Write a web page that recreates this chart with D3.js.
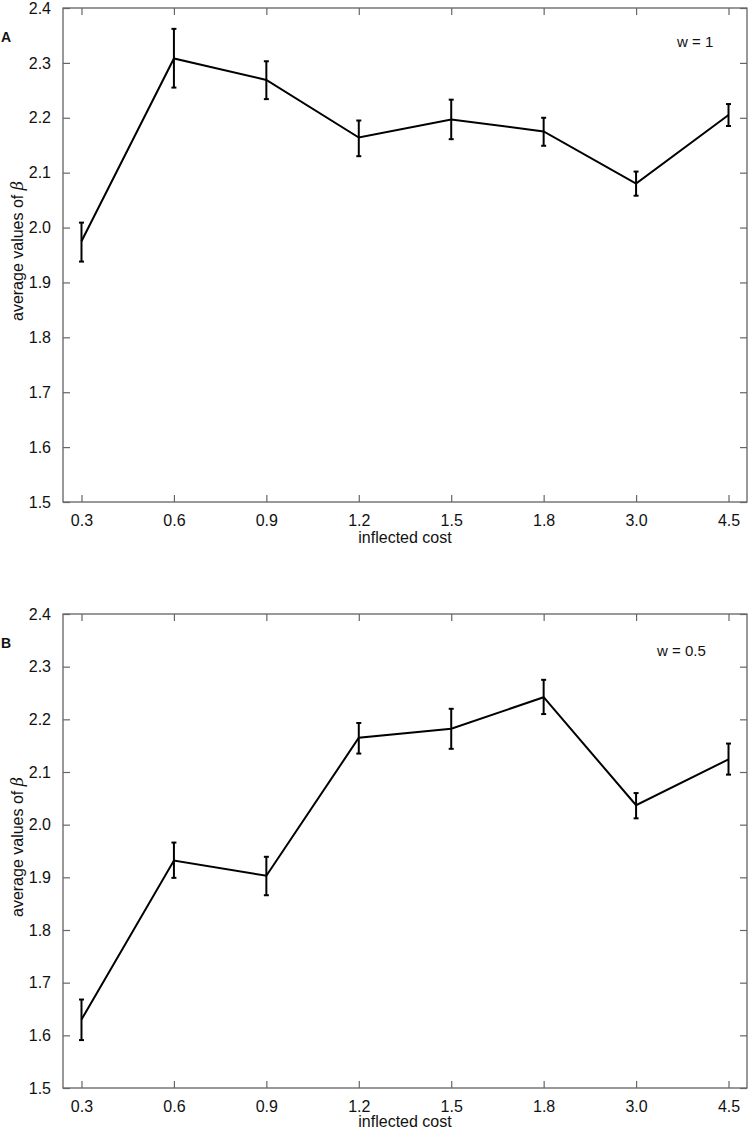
<!DOCTYPE html>
<html>
<head>
<meta charset="utf-8">
<script src="https://cdn.jsdelivr.net/npm/d3@7"></script>
<style>
  body { margin: 0; background: #fff; }
  svg text { font-family: "Liberation Sans", Arial, Helvetica, sans-serif; fill: #111; }
</style>
</head>
<body>
<div id="canvas"></div>
<script>
"use strict"

/* Data */
let costLabels = ["0.3", "0.6", "0.9", "1.2", "1.5", "1.8", "3.0", "4.5"];
let yTickValues = [1.5, 1.6, 1.7, 1.8, 1.9, 2.0, 2.1, 2.2, 2.3, 2.4];

// panel A, w = 1
let meanA = [1.975, 2.308, 2.269, 2.164, 2.197, 2.175, 2.080, 2.205];
let lowA  = [1.938, 2.255, 2.234, 2.130, 2.161, 2.149, 2.058, 2.185];
let highA = [2.009, 2.362, 2.303, 2.195, 2.233, 2.200, 2.102, 2.225];

// panel B, w = 0.5
let meanB = [1.630, 1.932, 1.903, 2.165, 2.182, 2.242, 2.037, 2.124];
let lowB  = [1.591, 1.899, 1.866, 2.135, 2.144, 2.210, 2.012, 2.095];
let highB = [1.668, 1.966, 1.939, 2.193, 2.220, 2.275, 2.060, 2.154];

/* Drawing dimensions */
let svgWidth = 749;
let svgHeight = 1133;
let plotLeft = 63;
let plotRight = 747;
let tickLen = 7;

let svg = d3.select("#canvas")
    .append("svg")
    .attr("width", svgWidth)
    .attr("height", svgHeight);

let xScale = d3.scalePoint()
    .domain(costLabels)
    .range([plotLeft, plotRight])
    .padding(0.2);

function drawPanel(top, bottom, means, lows, highs, letter, note, noteX, noteY, xLabelY) {
    let g = svg.append("g");

    let yScale = d3.scaleLinear()
        .domain([1.5, 2.4])
        .range([bottom, top]);

    let rows = costLabels.map(function (c, i) {
        return { c: c, m: means[i], lo: lows[i], hi: highs[i] };
    });

    // frame
    g.append("rect")
        .attr("x", plotLeft)
        .attr("y", top)
        .attr("width", plotRight - plotLeft)
        .attr("height", bottom - top)
        .attr("fill", "none")
        .attr("stroke", "#555")
        .attr("stroke-width", 1.2);

    // axes with inward ticks
    let bottomAxis = d3.axisBottom(xScale).tickSize(-tickLen).tickPadding(tickLen + 6);
    let topAxis = d3.axisTop(xScale).tickSize(-tickLen).tickFormat("");
    let leftAxis = d3.axisLeft(yScale).tickValues(yTickValues).tickSize(-tickLen)
        .tickPadding(tickLen + 5).tickFormat(d3.format(".1f"));
    let rightAxis = d3.axisRight(yScale).tickValues(yTickValues).tickSize(-tickLen).tickFormat("");

    let axes = [
        g.append("g").attr("transform", "translate(0," + bottom + ")").call(bottomAxis),
        g.append("g").attr("transform", "translate(0," + top + ")").call(topAxis),
        g.append("g").attr("transform", "translate(" + plotLeft + ",0)").call(leftAxis),
        g.append("g").attr("transform", "translate(" + plotRight + ",0)").call(rightAxis)
    ];
    axes.forEach(function (a) {
        a.select(".domain").remove();
        a.attr("font-family", null).attr("font-size", null);
        a.selectAll(".tick line").attr("stroke", "#666").attr("stroke-width", 1.2);
        a.selectAll(".tick text").style("font-size", "16px").attr("fill", "#111");
    });

    // line through the means
    let line = d3.line()
        .x(function (d) { return xScale(d.c); })
        .y(function (d) { return yScale(d.m); });

    g.append("path")
        .datum(rows)
        .attr("d", line)
        .attr("fill", "none")
        .attr("stroke", "#000")
        .attr("stroke-width", 2);

    // error bars
    let bars = g.selectAll(".err")
        .data(rows)
        .join("g")
        .attr("class", "err")
        .attr("stroke", "#000")
        .attr("stroke-width", 2);

    bars.append("line")
        .attr("x1", function (d) { return xScale(d.c); })
        .attr("x2", function (d) { return xScale(d.c); })
        .attr("y1", function (d) { return yScale(d.lo); })
        .attr("y2", function (d) { return yScale(d.hi); });

    ["lo", "hi"].forEach(function (k) {
        bars.append("line")
            .attr("x1", function (d) { return xScale(d.c) - 2.5; })
            .attr("x2", function (d) { return xScale(d.c) + 2.5; })
            .attr("y1", function (d) { return yScale(d[k]); })
            .attr("y2", function (d) { return yScale(d[k]); });
    });

    // axis titles
    g.append("text")
        .attr("x", (plotLeft + plotRight) / 2)
        .attr("y", xLabelY)
        .attr("text-anchor", "middle")
        .style("font-size", "16px")
        .text("inflected cost");

    let yTitle = g.append("text")
        .attr("transform", "translate(23," + ((top + bottom) / 2 - 4) + ") rotate(-90)")
        .attr("text-anchor", "middle")
        .style("font-size", "16px");
    yTitle.append("tspan").text("average values of ");
    yTitle.append("tspan")
        .style("font-family", "'DejaVu Serif', serif")
        .style("font-style", "italic")
        .text("β");

    // panel letter
    g.append("text")
        .attr("x", 1)
        .attr("y", top + 34)
        .style("font-size", "14px")
        .style("font-weight", "bold")
        .text(letter);

    // parameter note
    g.append("text")
        .attr("x", noteX)
        .attr("y", noteY)
        .style("font-size", "15px")
        .text(note);
}

drawPanel(8, 502, meanA, lowA, highA, "A", "w = 1", 677, 47, 543);
drawPanel(614, 1088, meanB, lowB, highB, "B", "w = 0.5", 657, 656, 1127);
</script>
</body>
</html>
